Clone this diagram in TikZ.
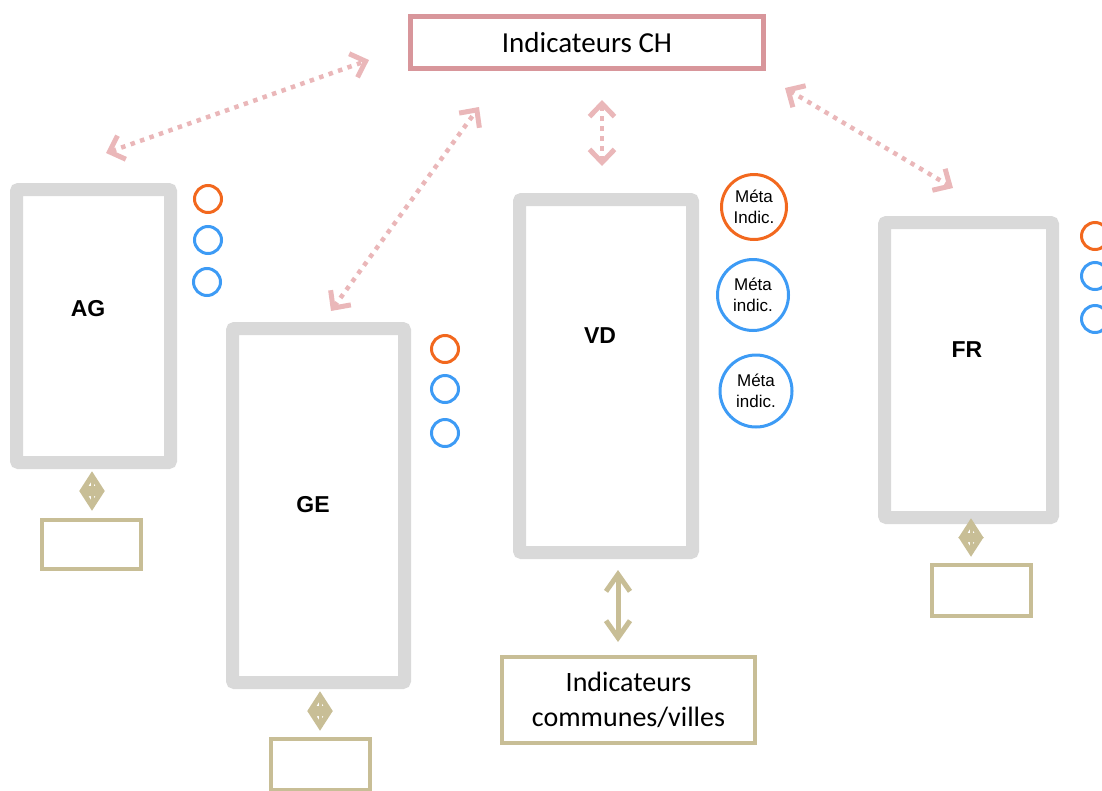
\documentclass[tikz,border=0pt]{standalone}
\usepackage{fontspec}
\setmainfont{Liberation Sans}
\newfontfamily\calib{Carlito}
\usetikzlibrary{arrows.meta}
\definecolor{gboxc}{RGB}{217,217,217}
\definecolor{tanc}{RGB}{200,190,150}
\definecolor{pinkc}{RGB}{216,150,155}
\definecolor{dotc}{RGB}{234,183,185}
\definecolor{orc}{RGB}{242,104,30}
\definecolor{blc}{RGB}{61,155,245}
\tikzset{
  graybox/.style={draw=gboxc, line width=13pt, rounded corners=2pt, inner sep=0pt},
  tanbox/.style={draw=tanc, line width=4pt, inner sep=0pt},
  pinkbox/.style={draw=pinkc, line width=5pt, inner sep=0pt, font=\calib\fontsize{29}{34}\selectfont},
  lbl/.style={font=\bfseries\fontsize{23}{27}\selectfont, inner sep=0pt},
  smallc/.style={circle, line width=3pt, minimum size=27pt, inner sep=0pt},
  metac/.style={circle, line width=3pt, inner sep=0pt, align=center, font=\fontsize{17}{21}\selectfont},
  dotarrow/.style={draw=dotc, line width=4.5pt, dash pattern=on 4.5pt off 5.5pt,
    {Straight Barb[length=13pt,width=25pt,line width=5pt]}-{Straight Barb[length=13pt,width=25pt,line width=5pt]}},
  diamarrow/.style={draw=tanc, line width=3pt,
    {Triangle[open,length=20pt,width=24pt,line width=5pt]}-{Triangle[open,length=20pt,width=24pt,line width=5pt]}},
  diambar/.style={draw=tanc, line width=3pt},
  tanarrow/.style={draw=tanc, line width=5pt,
    {Straight Barb[length=17pt,width=24pt]}-{Straight Barb[length=17pt,width=24pt]}},
}
\begin{document}
\begin{tikzpicture}[x=1pt,y=-1pt]
\useasboundingbox (0,0) rectangle (1102,790);

% top box
\node[pinkbox, minimum width=353pt, minimum height=52pt] (ch) at (587,42.5) {Indicateurs CH};

% gray canton boxes
\node[graybox, minimum width=154pt, minimum height=273pt] (ag) at (93.5,326) {};
\node[graybox, minimum width=172pt, minimum height=354pt] (ge) at (318.5,505.5) {};
\node[graybox, minimum width=173pt, minimum height=353pt] (vd) at (606,376) {};
\node[graybox, minimum width=168pt, minimum height=295pt] (fr) at (968.5,370) {};

\node[lbl] (agl) at (88,309) {AG};
\node[lbl] (gel) at (313,505) {GE};
\node[lbl] (vdl) at (600,336) {VD};
\node[lbl] (frl) at (967,350) {FR};

% small circles
\node[smallc, draw=orc] (ag1) at (208,199) {};
\node[smallc, draw=blc] (ag2) at (208,240) {};
\node[smallc, draw=blc] (ag3) at (207,282) {};
\node[smallc, draw=orc] (ge1) at (445,349) {};
\node[smallc, draw=blc] (ge2) at (445,389) {};
\node[smallc, draw=blc] (ge3) at (445,433) {};
\node[smallc, draw=orc] (fr1) at (1095,236) {};
\node[smallc, draw=blc] (fr2) at (1095,276) {};
\node[smallc, draw=blc] (fr3) at (1095,319) {};

% meta circles
\node[metac, draw=orc, minimum size=65pt] (vd1) at (754,207) {Méta\\Indic.};
\node[metac, draw=blc, minimum size=71pt] (vd2) at (753,295) {Méta\\indic.};
\node[metac, draw=blc, minimum size=72pt] (vd3) at (756,391) {Méta\\indic.};

% tan boxes
\node[tanbox, minimum width=99pt, minimum height=49pt] (agb) at (91.5,544.5) {};
\node[tanbox, minimum width=99pt, minimum height=51pt] (geb) at (320.5,764.5) {};
\node[tanbox, minimum width=99pt, minimum height=51pt] (frb) at (981.5,590.5) {};
\node[tanbox, minimum width=253pt, minimum height=86pt, align=center,
      font=\calib\fontsize{28}{35}\selectfont] (vdb) at (628.5,700) {Indicateurs\\communes/villes};

% tan connectors
\draw[diamarrow, shorten <=2pt, shorten >=7pt] ([xshift=-1.5pt]ag.south) -- ([xshift=0.5pt]agb.north);
\draw[diambar, shorten <=8pt, shorten >=13pt] ([xshift=-1.5pt]ag.south) -- ([xshift=0.5pt]agb.north);
\draw[diamarrow, shorten <=2pt, shorten >=6pt] ([xshift=1.5pt]ge.south) -- ([xshift=-0.5pt]geb.north);
\draw[diambar, shorten <=8pt, shorten >=12pt] ([xshift=1.5pt]ge.south) -- ([xshift=-0.5pt]geb.north);
\draw[diamarrow, shorten <=-6pt, shorten >=6pt] ([xshift=2.5pt]fr.south) -- ([xshift=-10.5pt]frb.north);
\draw[diambar, shorten <=0pt, shorten >=12pt] ([xshift=2.5pt]fr.south) -- ([xshift=-10.5pt]frb.north);
\draw[tanarrow, shorten <=11pt, shorten >=13pt] ([xshift=12pt]vd.south) -- ([xshift=-10.5pt]vdb.north);

% dotted pink connectors
\coordinate (a1) at (106,153);
\coordinate (a2) at (369,60);
\coordinate (b1) at (331,311);
\coordinate (b2) at (479,107);
\coordinate (c1) at (602,100);
\coordinate (c2) at (602,166);
\coordinate (d1) at (785,88);
\coordinate (d2) at (953,188);
\draw[dotarrow] (a1) -- (a2);
\draw[dotarrow] (b1) -- (b2);
\draw[dotarrow] (c1) -- (c2);
\draw[dotarrow] (d1) -- (d2);
\end{tikzpicture}
\end{document}
